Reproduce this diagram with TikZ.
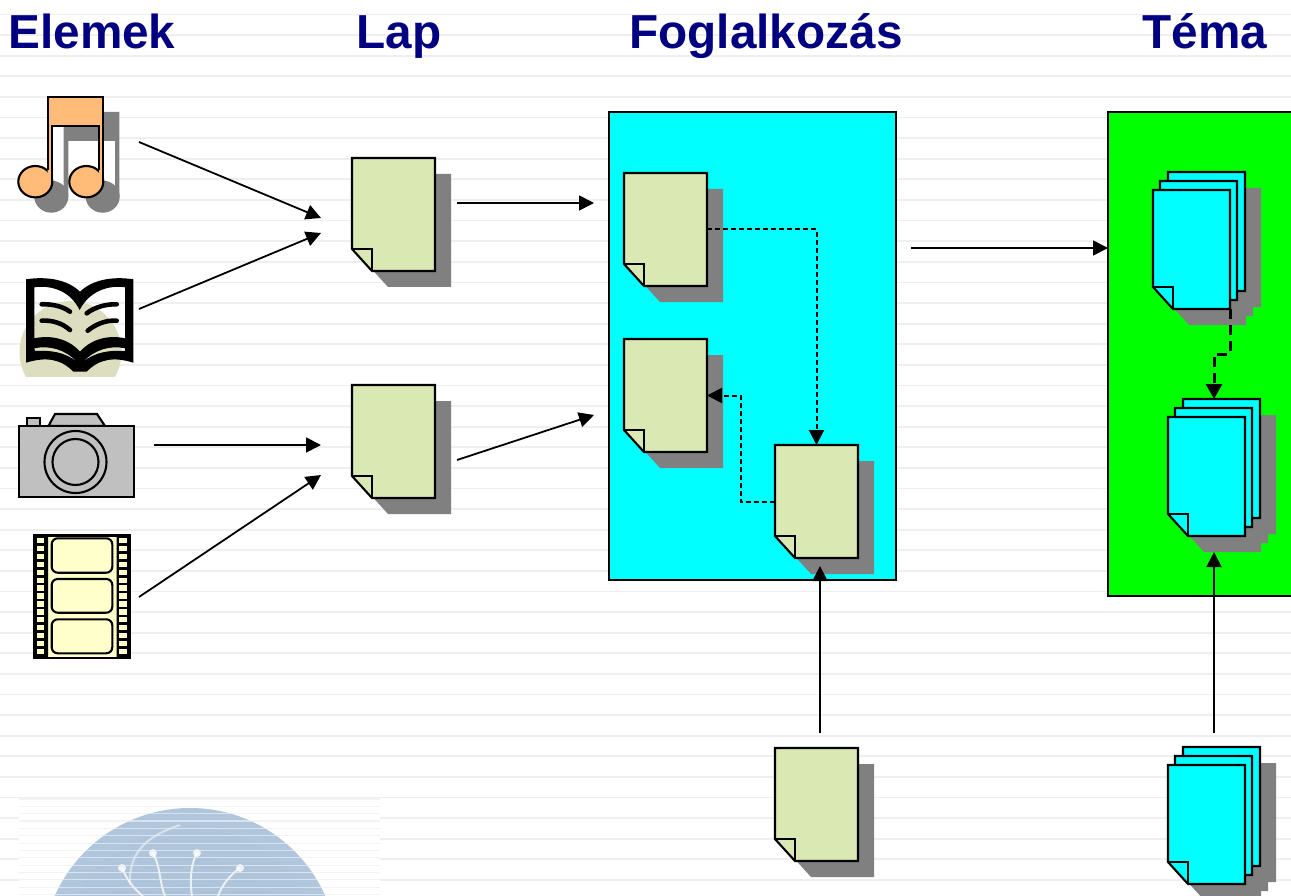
\documentclass[tikz,border=0pt]{standalone}
\usepackage{fontspec}
\setmainfont{Liberation Sans}
\usepackage{xcolor}
\usetikzlibrary{arrows.meta,positioning,calc}

\definecolor{titleblue}{HTML}{000080}
\definecolor{sheetgreen}{HTML}{DAE9B3}
\definecolor{shadowgray}{HTML}{808080}
\definecolor{notecolor}{HTML}{FFBB77}
\definecolor{blobcolor}{HTML}{DDDDBF}
\definecolor{filmcolor}{HTML}{FFFFCC}
\definecolor{stripecolor}{HTML}{EFEFEF}
\definecolor{ballcolor}{HTML}{A9C1D9}
\definecolor{lessoncyan}{HTML}{00FFFF}
\definecolor{themegreen}{HTML}{00FF00}
\definecolor{cameragray}{HTML}{C0C0C0}

\pgfdeclareradialshading{ballfade}{\pgfpoint{0bp}{0bp}}{
    color(0bp)=(ballcolor);
    color(30bp)=(ballcolor!90);
    color(40bp)=(ballcolor!70);
    color(50bp)=(ballcolor!10)
}

\tikzset{
    title/.style={anchor=base, text=titleblue, font=\fontsize{47.7}{50}\selectfont\bfseries},
    outline/.style={draw=black, line width=2.1pt, line join=miter},
    sheetbox/.style={anchor=north west, minimum width=83pt, minimum height=113pt, inner sep=0pt, outer sep=0pt},
    stackbox/.style={anchor=north west, minimum width=92pt, minimum height=137pt, inner sep=0pt, outer sep=0pt},
    box/.style={draw=black, line width=2.1pt, anchor=north west, inner sep=0pt, outer sep=0pt},
    icon/.style={anchor=north west, inner sep=0pt, outer sep=0pt},
    arrow/.style={line width=1.8pt, -{Triangle[length=15pt,width=15pt]}},
    dashline/.style={line width=2pt, dash pattern=on 5pt off 3pt, -{Triangle[length=15pt,width=15pt]}},
    thickdash/.style={line width=3pt, dash pattern=on 10pt off 6pt, -{Triangle[length=15pt,width=16pt]}}
}

\newcommand{\sheetpath}[2]{(0,0) -- (#1,0) -- (#1,#2) -- (20,#2) -- (0,#2-22) -- cycle}
\newcommand{\sheetfold}[2]{(0,#2-22) -- (20,#2-22) -- (20,#2)}

\newcommand{\sheet}[3]{
    \begin{scope}[shift={(#2,#3)}]
        \fill[shadowgray, shift={(16,16)}] \sheetpath{83}{113};
        \filldraw[outline, fill=sheetgreen] \sheetpath{83}{113};
        \draw[outline] \sheetfold{83}{113};
        \node[sheetbox] (#1) at (0,0) {};
    \end{scope}
}

\newcommand{\stack}[3]{
    \begin{scope}[shift={(#2,#3)}]
        \fill[shadowgray, shift={(31,-2)}] \sheetpath{77}{119};
        \fill[shadowgray, shift={(23,7)}] \sheetpath{77}{119};
        \fill[shadowgray, shift={(16,16)}] \sheetpath{77}{119};
        \filldraw[outline, fill=lessoncyan, shift={(15,-18)}] \sheetpath{77}{119};
        \filldraw[outline, fill=lessoncyan, shift={(7,-9)}] \sheetpath{77}{119};
        \filldraw[outline, fill=lessoncyan] \sheetpath{77}{119};
        \draw[outline] \sheetfold{77}{119};
        \node[stackbox] (#1) at (0,-18) {};
    \end{scope}
}

\newcommand{\notebody}{(47.7,97) -- (103.3,97) -- (103.3,182) -- (99,182) -- (99,126) -- (52.3,126) -- (52.3,182) -- (47.7,182) -- cycle}

\begin{document}
\begin{tikzpicture}[x=1pt, y=-1pt]
    \clip (0,0) rectangle (1291,896);
    \fill[white] (0,0) rectangle (1291,896);
    \foreach \k in {0,...,42} {
        \pgfmathsetmacro{\ypos}{14.6+20.6*\k}
        \draw[stripecolor, line width=1.8pt] (0,\ypos) -- (1291,\ypos);
    }

    \fill[white] (19,798) rectangle (380,896);
    \shade[shading=ballfade] (190,956) circle (148);
    \draw[white, opacity=.75, line width=2pt] (197,853) .. controls (190,865) and (190,885) .. (192,896);
    \draw[white, opacity=.75, line width=2pt] (153,853) .. controls (160,865) and (160,885) .. (165,896);
    \draw[white, opacity=.75, line width=2pt] (122,868) .. controls (127,880) and (135,890) .. (143,896);
    \draw[white, opacity=.75, line width=2pt] (240,868) .. controls (230,875) and (222,885) .. (218,896);
    \draw[white, opacity=.5, line width=2pt] (180,825) .. controls (150,835) and (128,850) .. (130,885);
    \fill[white, opacity=.8] (197,853) circle (4) (153,853) circle (4) (122,868) circle (4) (240,868) circle (4);
    \foreach \k in {0,...,13} {
        \pgfmathsetmacro{\ypos}{799+7.35*\k}
        \draw[stripecolor, opacity=.7, line width=1.2pt] (19,\ypos) -- (380,\ypos);
    }

    \node[title] (elemek) at (92,49) {Elemek};
    \node[title] (lap) at (399,49) {Lap};
    \node[title] (foglalkozas) at (766,49) {Foglalkozás};
    \node[title] (tema) at (1205,49) {Téma};

    \node[icon, minimum width=101pt, minimum height=116pt] (music) at (18,97) {};
    \fill[white] (52,125) rectangle (115,192);
    \fill[shadowgray, shift={(16,15)}] \notebody;
    \fill[shadowgray] (51.3,196.7) ellipse [x radius=17, y radius=16] (102.7,196.7) ellipse [x radius=17, y radius=16];
    \filldraw[outline, fill=notecolor] (35.3,181.7) ellipse [x radius=17, y radius=15.7] (86.3,181.7) ellipse [x radius=17, y radius=15.7];
    \fill[notecolor] \notebody;
    \draw[outline] (47.7,170) -- (47.7,97) -- (103.3,97) -- (103.3,182);
    \draw[outline] (99,170) -- (99,126) -- (52.3,126) -- (52.3,182);

    \node[icon, minimum width=107pt, minimum height=98pt] (book) at (26,279) {};
    \begin{scope}
        \clip (15,295) rectangle (130,376.7);
        \fill[blobcolor] (70.5,352) circle (51);
    \end{scope}
    \fill[even odd rule] (26,279.3) .. controls (48,276) and (68,280) .. (80,291.7) .. controls (92,280) and (112,276) .. (133.3,279.3)
        -- (133.3,362.7) .. controls (115,357) and (100,358) .. (86.7,371.7) -- (73.3,371.7) .. controls (60,358) and (45,357) .. (26,362.7) -- cycle
        (34.3,287.3) .. controls (50,285) and (70,290) .. (79.6,310) .. controls (90,290) and (110,285) .. (125,287.3)
        -- (125,338.3) .. controls (110,335) and (92,338) .. (80,351.7) .. controls (68,338) and (50,335) .. (34.3,338.3) -- cycle
        (34.3,348.3) .. controls (50,345) and (66,350) .. (76.7,361.7) .. controls (65,352) and (50,350) .. (35,351) -- cycle
        (125,348.3) .. controls (110,345) and (94,350) .. (83.3,361.7) .. controls (95,352) and (110,350) .. (125,351) -- cycle;
    \draw[line width=4.6pt, line cap=round] (41.7,304.3) .. controls (52,304) and (62,306) .. (70,311.7);
    \draw[line width=4.6pt, line cap=round] (41.7,320.7) .. controls (52,320) and (62,323) .. (70,330);
    \draw[line width=4.6pt, line cap=round] (116.7,304.3) .. controls (106,304) and (95,307) .. (86.7,313.3);
    \draw[line width=4.6pt, line cap=round] (116.7,320.7) .. controls (106,320) and (96,324) .. (87.7,330.7);

    \node[icon, minimum width=115pt, minimum height=83pt] (camera) at (19,414) {};
    \filldraw[outline, fill=cameragray] (27,426) -- (27,418) -- (40,418) -- (40,426) -- cycle;
    \filldraw[outline, fill=cameragray] (48.5,426) -- (55,414) -- (97,414) -- (105,426) -- cycle;
    \filldraw[outline, fill=cameragray] (19,426) rectangle (134,497);
    \draw[outline] (75.5,462) circle (31) (75.5,462) circle (23);

    \node[icon, minimum width=96pt, minimum height=123pt] (film) at (34,535.5) {};
    \filldraw[outline, fill=filmcolor] (34,535.5) rectangle (130,658);
    \fill (34,535.5) rectangle (48,658) (116.7,535.5) rectangle (130,658);
    \foreach \k in {0,...,14} {
        \pgfmathsetmacro{\ypos}{538+7.9*\k}
        \fill[filmcolor] (37,\ypos) rectangle ++(7.4,5.4);
        \fill[filmcolor] (119.3,\ypos) rectangle ++(7.4,5.4);
    }
    \foreach \ypos/\yend in {538.3/572.7, 579/612.7, 619.3/653.3} {
        \draw[outline, rounded corners=6pt] (51.7,\ypos) rectangle (112.3,\yend);
    }

    \sheet{lapA}{352}{158}
    \sheet{lapB}{352}{385}

    \node[box, fill=lessoncyan, minimum width=287pt, minimum height=468pt] (lessonbox) at (609,112) {};
    \node[box, fill=themegreen, minimum width=200pt, minimum height=484pt] (themebox) at (1108,112) {};

    \sheet{lessonA}{624}{173}
    \sheet{lessonB}{624}{339}
    \sheet{lessonC}{775}{445}
    \sheet{lessonD}{775}{748}

    \stack{stackA}{1153}{190}
    \stack{stackB}{1168}{417}
    \stack{stackC}{1168}{765}

    \coordinate (musicout) at (139,142);
    \coordinate (bookout) at (139,309);
    \coordinate (cameraout) at (154,445);
    \coordinate (filmout) at (139,597);
    \coordinate (musicin) at (321,218);
    \coordinate (bookin) at (321,233);
    \coordinate (camerain) at (321,445);
    \coordinate (filmin) at (321,475);
    \coordinate (lapAout) at (457,203);
    \coordinate (lapAin) at (594,203);
    \coordinate (lapBout) at (457,460);
    \coordinate (lapBin) at (594,415);
    \coordinate (lessonout) at (911,248);
    \coordinate (lessonDout) at (820,733);
    \coordinate (lessonCin) at (820,566);
    \coordinate (stackAout) at (1230,309);

    \draw[arrow] (musicout) -- (musicin);
    \draw[arrow] (bookout) -- (bookin);
    \draw[arrow] (cameraout) -- (camerain);
    \draw[arrow] (filmout) -- (filmin);
    \draw[arrow] (lapAout) -- (lapAin);
    \draw[arrow] (lapBout) -- (lapBin);
    \draw[arrow] (lessonout) -- (themebox.west |- lessonout);
    \draw[arrow] (lessonDout) -- (lessonCin);
    \draw[arrow, shorten <=14pt, shorten >=16pt] (stackC.north) -- (stackB.south);

    \draw[dashline] (lessonA.east) -| (lessonC.north);
    \draw[dashline] (lessonC.west) -- ++(-34,0) |- (lessonB.east);
    \draw[thickdash] (stackAout) -- ++(0,45) -| (stackB.north);
\end{tikzpicture}
\end{document}
